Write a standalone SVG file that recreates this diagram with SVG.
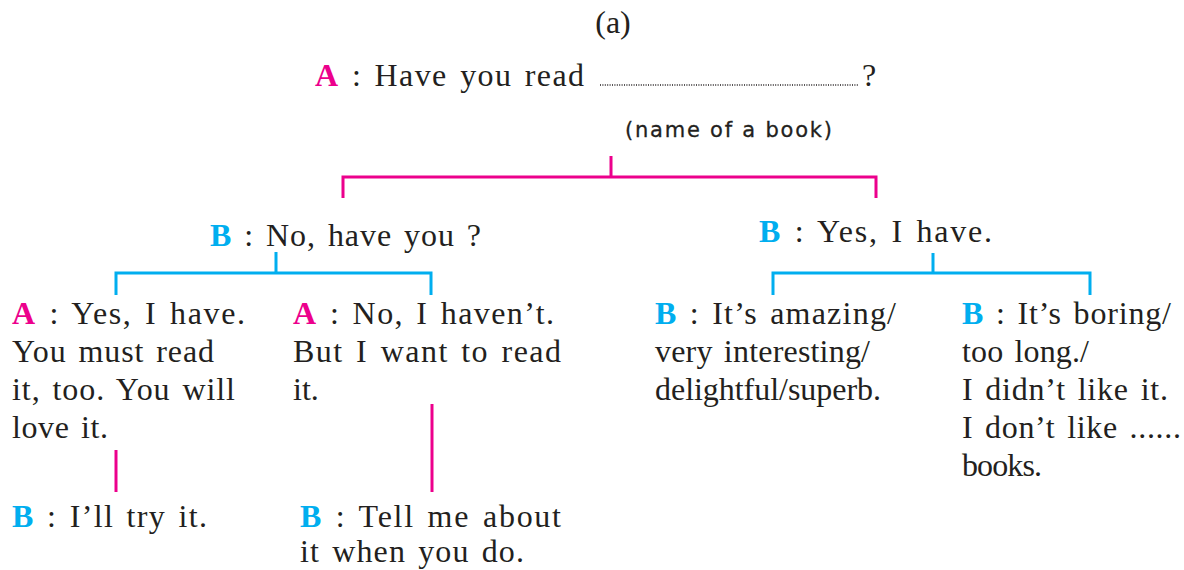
<svg xmlns="http://www.w3.org/2000/svg" width="1184" height="570" viewBox="0 0 1184 570">
<style>
.t{font-family:"Liberation Serif","Times New Roman",serif;font-size:32px;fill:#231f20;word-spacing:3px}
.m{fill:#EC008C;font-weight:bold}
.c{fill:#00AEEF;font-weight:bold}
.n{font-family:"DejaVu Sans",sans-serif;font-size:21px;fill:#231f20;stroke:#231f20;stroke-width:0.3}
.pm{stroke:#EC008C;stroke-width:3;fill:none}
.pc{stroke:#00AEEF;stroke-width:3;fill:none}
</style>
<rect width="1184" height="570" fill="#ffffff"/>
<g id="title"><text class="t" x="613" y="33" text-anchor="middle" font-size="28">(a)</text></g>
<g id="q-root">
<text class="t" x="315" y="86" textLength="269" lengthAdjust="spacing"><tspan class="m">A</tspan> : Have you read</text>
<line x1="600" y1="85" x2="859" y2="85" stroke="#231f20" stroke-width="1.3" stroke-dasharray="1 1.4"/>
<text class="t" x="862" y="86">?</text>
<text class="n" x="625" y="137" textLength="207" lengthAdjust="spacing">(name of a book)</text>
</g>
<g id="b-no">
<text class="t" x="210" y="246" textLength="271" lengthAdjust="spacing"><tspan class="c">B</tspan> : No, have you ?</text>
</g>
<g id="b-yes">
<text class="t" x="759" y="242" textLength="233" lengthAdjust="spacing"><tspan class="c">B</tspan> : Yes, I have.</text>
</g>
<g id="a-yes">
<text class="t" x="12" y="324" textLength="233" lengthAdjust="spacing"><tspan class="m">A</tspan> : Yes, I have.</text>
<text class="t" x="12" y="362" textLength="202" lengthAdjust="spacing">You must read</text>
<text class="t" x="12" y="400" textLength="223" lengthAdjust="spacing">it, too. You will</text>
<text class="t" x="12" y="438" textLength="96" lengthAdjust="spacing">love it.</text>
</g>
<g id="a-no">
<text class="t" x="293" y="324" textLength="261" lengthAdjust="spacing"><tspan class="m">A</tspan> : No, I haven’t.</text>
<text class="t" x="293" y="362" textLength="268" lengthAdjust="spacing">But I want to read</text>
<text class="t" x="293" y="400">it.</text>
</g>
<g id="b-amazing">
<text class="t" x="655" y="324" textLength="241" lengthAdjust="spacing"><tspan class="c">B</tspan> : It’s amazing/</text>
<text class="t" x="655" y="362" textLength="215" lengthAdjust="spacing">very interesting/</text>
<text class="t" x="655" y="400" textLength="226" lengthAdjust="spacing">delightful/superb.</text>
</g>
<g id="b-boring">
<text class="t" x="962" y="324" textLength="209" lengthAdjust="spacing"><tspan class="c">B</tspan> : It’s boring/</text>
<text class="t" x="962" y="362" textLength="127" lengthAdjust="spacing">too long./</text>
<text class="t" x="962" y="400" textLength="206" lengthAdjust="spacing">I didn’t like it.</text>
<text class="t" x="962" y="438" textLength="219" lengthAdjust="spacing">I don’t like ......</text>
<text class="t" x="962" y="476" textLength="80" lengthAdjust="spacing">books.</text>
</g>
<g id="b-try">
<text class="t" x="12" y="527" textLength="195" lengthAdjust="spacing"><tspan class="c">B</tspan> : I’ll try it.</text>
</g>
<g id="b-tell">
<text class="t" x="300" y="527" textLength="261" lengthAdjust="spacing"><tspan class="c">B</tspan> : Tell me about</text>
<text class="t" x="300" y="562" textLength="224" lengthAdjust="spacing">it when you do.</text>
</g>
<g id="connectors">
<path class="pm" d="M611 156V177M343 198V177H876V198"/>
<path class="pc" d="M276 252V273M116 295V273H431V295"/>
<path class="pc" d="M933 253V273M773 295V273H1090V295"/>
<path class="pm" d="M116 450V492"/>
<path class="pm" d="M432 404V492"/>
</g>
</svg>
